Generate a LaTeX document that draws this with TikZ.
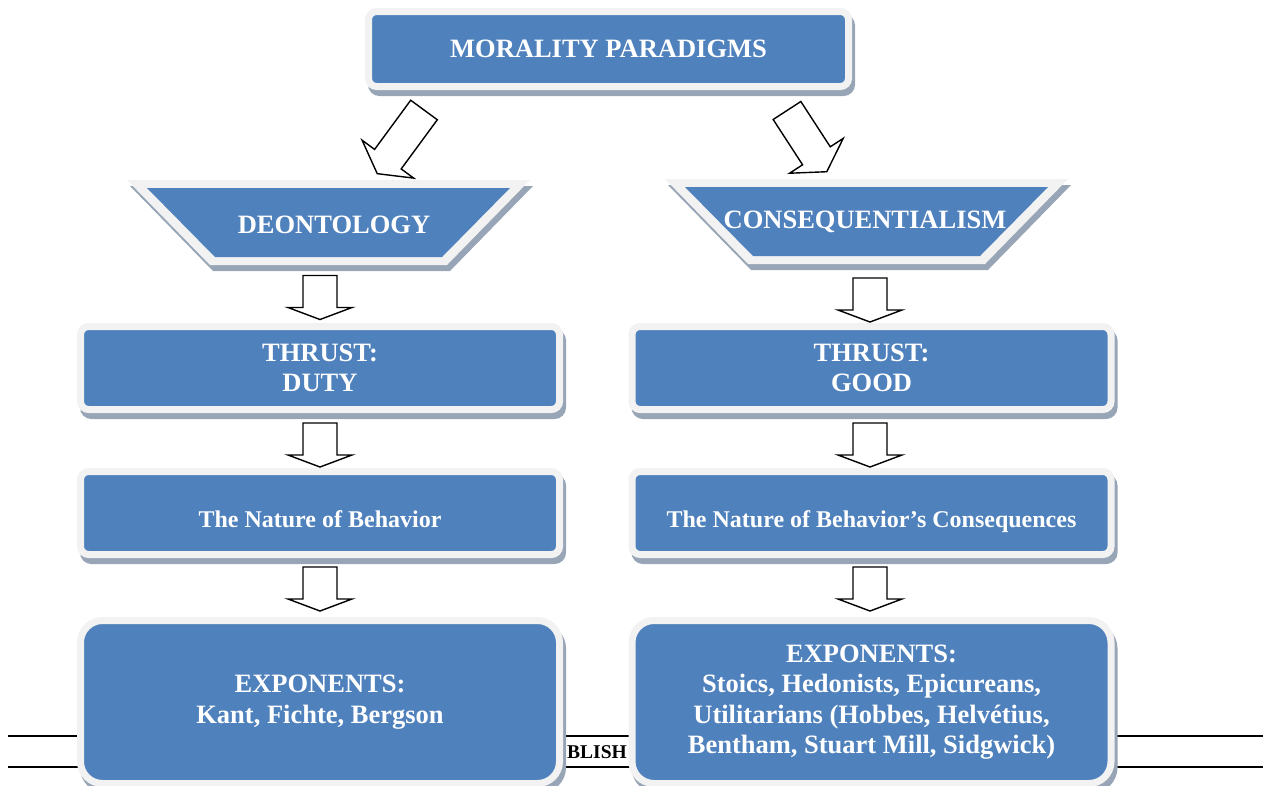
\documentclass[tikz,border=0pt]{standalone}
\usepackage{fontspec}
\setmainfont{Liberation Serif}
\usetikzlibrary{calc}
\definecolor{boxblue}{HTML}{4F81BD}
\definecolor{boxrim}{HTML}{F2F2F2}
\definecolor{boxshadow}{HTML}{97A5B7}
\tikzset{
  mbox/.style={rectangle, rounded corners=8pt, fill=boxblue, draw=boxrim, line width=7pt,
    text=white, align=center, inner sep=0pt, minimum width=479pt, minimum height=83pt,
    font=\bfseries\fontsize{26.5}{30.5}\selectfont,
    preaction={draw=boxshadow, fill=boxshadow, line width=7pt, transform canvas={xshift=3pt,yshift=-6pt}}},
  natfont/.style={font=\bfseries\fontsize{24}{28}\selectfont, text height=29pt, text depth=0pt},
  blk/.style={draw=black, fill=white, line width=1.4pt, line join=miter},
  rulerline/.style={draw=black, line width=2pt},
  ttext/.style={text=white, font=\bfseries\fontsize{26.5}{30.5}\selectfont, inner sep=0pt},
}
\newcommand\trapshape[2]{%
  \fill[boxshadow, shift={(#1+3,#2+6)}] (-201.5,180) -- (201.5,180) -- (118.5,265) -- (-118.5,265) -- cycle;
  \fill[boxrim, shift={(#1,#2)}] (-201.5,180) -- (201.5,180) -- (118.5,265) -- (-118.5,265) -- cycle;
  \fill[boxblue, shift={(#1,#2)}] (-181.5,188) -- (181.5,188) -- (113.5,257) -- (-113.5,257) -- cycle;}
\newcommand\vblk[1]{\draw[blk, shift={#1}] (-17,-22) -- (17,-22) -- (17,10) -- (32,10) -- (0,22) -- (-32,10) -- (-17,10) -- cycle;}
\newcommand\dblk[4]{\draw[blk, shift={#1}, rotate=#2] (0,-16.5) -- (#3-#4,-16.5) -- (#3-#4,-32) -- (#3,0) -- (#3-#4,32) -- (#3-#4,16.5) -- (0,16.5) -- cycle;}
\begin{document}
\begin{tikzpicture}[x=1pt,y=-1pt]
\useasboundingbox (0,0) rectangle (1263,785);
% background rules
\draw[rulerline] (8,736) -- (1263,736);
\draw[rulerline] (8,767) -- (1263,767);
\node[font=\bfseries\fontsize{19.5}{20}\selectfont, anchor=base east, inner sep=0pt] (blish) at (627,758) {BLISH};
% top box
\node[mbox, minimum width=480pt, minimum height=75pt] (top) at (608.5,49) {MORALITY PARADIGMS};
% trapezoids
\trapshape{328.5}{0}
\trapshape{866.5}{-1}
\node[ttext] (deo) at (334,225) {DEONTOLOGY};
\node[ttext] (cons) at (865,222) {CONSEQUENTIALISM};
% boxes
\node[mbox] (thrL) at (320,368) {THRUST:\\DUTY};
\node[mbox] (thrR) at (871.5,368) {THRUST:\\GOOD};
\node[mbox, natfont] (natL) at (320,513) {The Nature of Behavior};
\node[mbox, natfont] (natR) at (871.5,513) {The Nature of Behavior’s Consequences};
\node[mbox, rounded corners=22pt, minimum height=163pt] (expL) at (320,702) {EXPONENTS:\\Kant, Fichte, Bergson};
\node[mbox, rounded corners=22pt, minimum height=163pt] (expR) at (871.5,702) {EXPONENTS:\\Stoics, Hedonists, Epicureans,\\Utilitarians (Hobbes, Helvétius,\\Bentham, Stuart Mill, Sidgwick)};
% arrows
\dblk{($(top.south)+(-184.5,20)$)}{-126.3}{79}{18}
\dblk{($(top.south)+(178.5,20.5)$)}{-57}{73}{19}
\vblk{($(thrL.north)+(0,-25.5)$)}
\vblk{($(thrR.north)+(-1.5,-23)$)}
\vblk{($(natL.north)+(0,-23)$)}
\vblk{($(natR.north)+(-1.5,-23)$)}
\vblk{($(expL.north)+(0,-28)$)}
\vblk{($(expR.north)+(-1.5,-28)$)}
\end{tikzpicture}
\end{document}
